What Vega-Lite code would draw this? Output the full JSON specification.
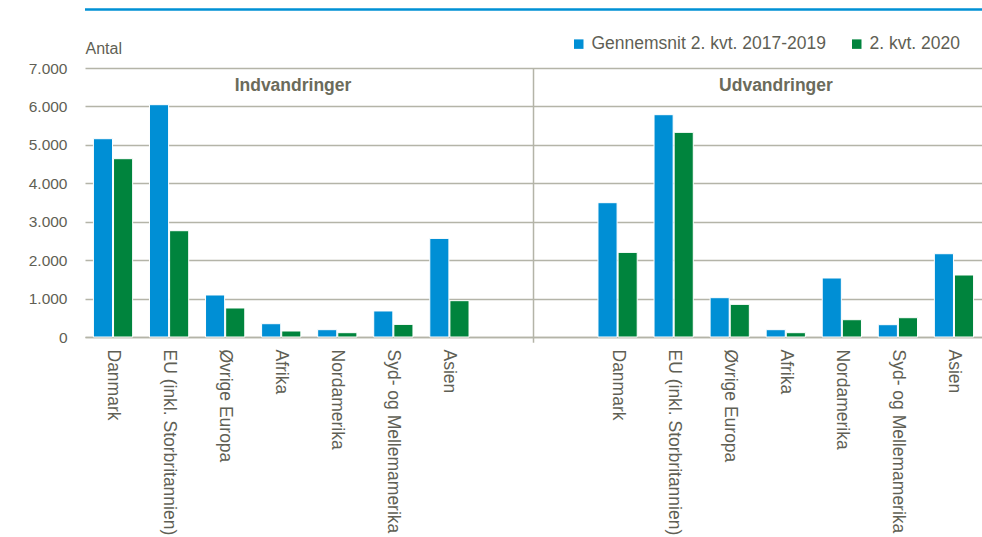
{
  "$schema": "https://vega.github.io/schema/vega-lite/v6.json",
  "width": 897,
  "height": 269,
  "autosize": {"type": "none"},
  "padding": {"left": 85, "top": 68, "right": 0, "bottom": 200},
  "config": {"font": "Liberation Sans", "view": {"stroke": null}},
  "data": {
    "values": [
      {"flow": "Indvandringer", "slot": "Ind|Danmark", "series": "Gennemsnit 2. kvt. 2017-2019", "value": 5160},
      {"flow": "Indvandringer", "slot": "Ind|Danmark", "series": "2. kvt. 2020", "value": 4640},
      {"flow": "Indvandringer", "slot": "Ind|EU (inkl. Storbritannien)", "series": "Gennemsnit 2. kvt. 2017-2019", "value": 6045},
      {"flow": "Indvandringer", "slot": "Ind|EU (inkl. Storbritannien)", "series": "2. kvt. 2020", "value": 2766},
      {"flow": "Indvandringer", "slot": "Ind|Øvrige Europa", "series": "Gennemsnit 2. kvt. 2017-2019", "value": 1093},
      {"flow": "Indvandringer", "slot": "Ind|Øvrige Europa", "series": "2. kvt. 2020", "value": 755},
      {"flow": "Indvandringer", "slot": "Ind|Afrika", "series": "Gennemsnit 2. kvt. 2017-2019", "value": 346},
      {"flow": "Indvandringer", "slot": "Ind|Afrika", "series": "2. kvt. 2020", "value": 156},
      {"flow": "Indvandringer", "slot": "Ind|Nordamerika", "series": "Gennemsnit 2. kvt. 2017-2019", "value": 190},
      {"flow": "Indvandringer", "slot": "Ind|Nordamerika", "series": "2. kvt. 2020", "value": 112},
      {"flow": "Indvandringer", "slot": "Ind|Syd- og Mellemamerika", "series": "Gennemsnit 2. kvt. 2017-2019", "value": 677},
      {"flow": "Indvandringer", "slot": "Ind|Syd- og Mellemamerika", "series": "2. kvt. 2020", "value": 328},
      {"flow": "Indvandringer", "slot": "Ind|Asien", "series": "Gennemsnit 2. kvt. 2017-2019", "value": 2566},
      {"flow": "Indvandringer", "slot": "Ind|Asien", "series": "2. kvt. 2020", "value": 945},
      {"flow": "Udvandringer", "slot": "Ud|Danmark", "series": "Gennemsnit 2. kvt. 2017-2019", "value": 3495},
      {"flow": "Udvandringer", "slot": "Ud|Danmark", "series": "2. kvt. 2020", "value": 2202},
      {"flow": "Udvandringer", "slot": "Ud|EU (inkl. Storbritannien)", "series": "Gennemsnit 2. kvt. 2017-2019", "value": 5785},
      {"flow": "Udvandringer", "slot": "Ud|EU (inkl. Storbritannien)", "series": "2. kvt. 2020", "value": 5325},
      {"flow": "Udvandringer", "slot": "Ud|Øvrige Europa", "series": "Gennemsnit 2. kvt. 2017-2019", "value": 1023},
      {"flow": "Udvandringer", "slot": "Ud|Øvrige Europa", "series": "2. kvt. 2020", "value": 849},
      {"flow": "Udvandringer", "slot": "Ud|Afrika", "series": "Gennemsnit 2. kvt. 2017-2019", "value": 190},
      {"flow": "Udvandringer", "slot": "Ud|Afrika", "series": "2. kvt. 2020", "value": 112},
      {"flow": "Udvandringer", "slot": "Ud|Nordamerika", "series": "Gennemsnit 2. kvt. 2017-2019", "value": 1535},
      {"flow": "Udvandringer", "slot": "Ud|Nordamerika", "series": "2. kvt. 2020", "value": 450},
      {"flow": "Udvandringer", "slot": "Ud|Syd- og Mellemamerika", "series": "Gennemsnit 2. kvt. 2017-2019", "value": 320},
      {"flow": "Udvandringer", "slot": "Ud|Syd- og Mellemamerika", "series": "2. kvt. 2020", "value": 502},
      {"flow": "Udvandringer", "slot": "Ud|Asien", "series": "Gennemsnit 2. kvt. 2017-2019", "value": 2167},
      {"flow": "Udvandringer", "slot": "Ud|Asien", "series": "2. kvt. 2020", "value": 1613}
    ]
  },
  "layer": [
    {
      "data": {"values": [{}]},
      "mark": {"type": "rule", "color": "#0090d5", "strokeWidth": 2.5},
      "encoding": {"y": {"datum": 8520, "type": "quantitative", "scale": {"domain": [0, 7000], "nice": false}}}
    },
    {
      "mark": {"type": "bar", "stroke": "white", "strokeWidth": 1},
      "encoding": {
        "x": {
          "field": "slot",
          "type": "nominal",
          "title": null,
          "scale": {
            "domain": ["Ind|Danmark", "Ind|EU (inkl. Storbritannien)", "Ind|Øvrige Europa", "Ind|Afrika", "Ind|Nordamerika", "Ind|Syd- og Mellemamerika", "Ind|Asien", "Ind|", "Ud|", "Ud|Danmark", "Ud|EU (inkl. Storbritannien)", "Ud|Øvrige Europa", "Ud|Afrika", "Ud|Nordamerika", "Ud|Syd- og Mellemamerika", "Ud|Asien"],
            "paddingInner": 0.3,
            "paddingOuter": 0.15
          },
          "axis": {
            "labelExpr": "split(datum.value, '|')[1]",
            "labelAngle": 90,
            "labelFontSize": 17.5,
            "labelColor": "#5f5f55",
            "labelPadding": 12,
            "labelLimit": 250,
            "ticks": false,
            "domain": true,
            "domainColor": "#b4b4a8",
            "domainWidth": 1.5
          }
        },
        "xOffset": {
          "field": "series",
          "type": "nominal",
          "scale": {"domain": ["Gennemsnit 2. kvt. 2017-2019", "2. kvt. 2020"], "paddingInner": 0.05}
        },
        "y": {
          "field": "value",
          "type": "quantitative",
          "scale": {"domain": [0, 7000], "nice": false},
          "axis": {
            "tickCount": 7,
            "labelExpr": "replace(format(datum.value, ','), ',', '.')",
            "labelFontSize": 15.5,
            "labelColor": "#5f5f55",
            "labelPadding": 18,
            "grid": true,
            "gridColor": "#b4b4a8",
            "gridWidth": 1.5,
            "domain": false,
            "ticks": false,
            "title": "Antal",
            "titleAngle": 0,
            "titleAlign": "left",
            "titleBaseline": "alphabetic",
            "titleX": 0,
            "titleY": -15,
            "titleFontWeight": "normal",
            "titleFontSize": 16,
            "titleColor": "#5f5f55"
          }
        },
        "color": {
          "field": "series",
          "type": "nominal",
          "scale": {"domain": ["Gennemsnit 2. kvt. 2017-2019", "2. kvt. 2020"], "range": ["#008fd5", "#00843d"]},
          "legend": {
            "title": null,
            "orient": "none",
            "legendX": 485,
            "legendY": -33,
            "direction": "horizontal",
            "symbolType": "square",
            "symbolSize": 90,
            "symbolStrokeWidth": 0,
            "labelFontSize": 17.5,
            "labelLimit": 400,
            "labelColor": "#5f5f55",
            "columnPadding": 22
          }
        }
      }
    },
    {
      "data": {"values": [{}]},
      "mark": {"type": "rule", "color": "#b4b4a8", "strokeWidth": 1.5},
      "encoding": {
        "x": {"datum": "Ud|", "bandPosition": -0.214},
        "y": {"datum": 7000, "type": "quantitative"},
        "y2": {"datum": -150}
      }
    },
    {
      "data": {"values": [{"label": "Indvandringer"}]},
      "mark": {"type": "text", "fontWeight": "bold", "fontSize": 17.5, "color": "#6b6b5b", "baseline": "middle", "align": "center"},
      "encoding": {
        "x": {"datum": "Ind|Afrika", "bandPosition": 0.8},
        "y": {"datum": 6540, "type": "quantitative"},
        "text": {"field": "label"}
      }
    },
    {
      "data": {"values": [{"label": "Udvandringer"}]},
      "mark": {"type": "text", "fontWeight": "bold", "fontSize": 17.5, "color": "#6b6b5b", "baseline": "middle", "align": "center"},
      "encoding": {
        "x": {"datum": "Ud|Afrika", "bandPosition": 0.25},
        "y": {"datum": 6540, "type": "quantitative"},
        "text": {"field": "label"}
      }
    }
  ]
}
